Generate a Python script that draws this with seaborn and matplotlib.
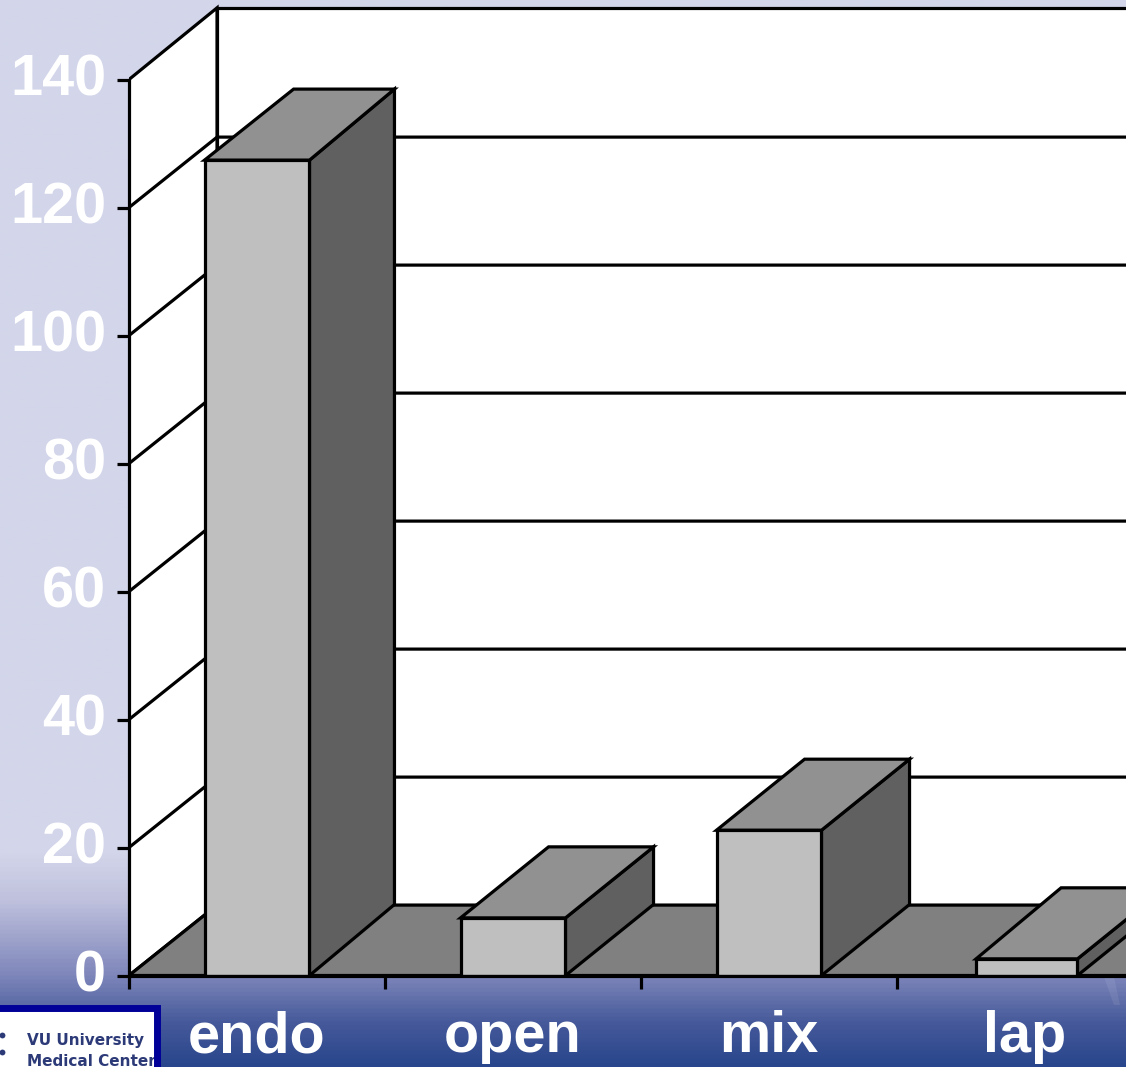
import numpy as np
import pandas as pd
import matplotlib
matplotlib.use("Agg")
import matplotlib.pyplot as plt
from matplotlib.colors import LinearSegmentedColormap
from matplotlib.lines import Line2D
from matplotlib.patches import Polygon, Rectangle
from matplotlib.transforms import ScaledTranslation
import seaborn as sns

# Procedure counts per surgical approach
approaches = ["endo", "open", "mix", "lap"]
counts = [127.4, 9, 22.7, 2.6]
y_ticks = [0, 20, 40, 60, 80, 100, 120, 140]

# Colours of the box faces and walls
FRONT = "#bfbfbf"
TOP = "#919191"
SIDE = "#606060"
FLOOR = "#808080"
LINE = "black"
LW = 2.3

# Depth of the pseudo-3D projection, in category units and count units
WALL_DX, WALL_DY = 0.344, 11.0
WALL_TOP = 151.2
BAR_DY = 11.1
BAR_WIDTH = 0.41
depth_left = [0.348, 0.344, 0.344, 0.332]
depth_right = [0.332, 0.344, 0.344, 0.344]
left_trim = [0, 0, 0, 0.014]

sns.set_theme(style="white")
plt.rcParams["font.family"] = ["Liberation Sans", "DejaVu Sans"]

W, H = 1126, 1067
fig = plt.figure(figsize=(W / 100, H / 100), dpi=100)
to_fig = lambda x, y: (x / W, 1 - y / H)

# Slide backdrop: pale lavender fading into a deep blue band
bg = fig.add_axes([0, 0, 1, 1], zorder=0)
stops = [(0.0, "#d3d6ea"), (0.80, "#d3d6ea"), (0.845, "#bfc1dd"),
         (0.915, "#7f87bb"), (0.96, "#46599a"), (1.0, "#29468c")]
cmap = LinearSegmentedColormap.from_list("backdrop", stops)
bg.imshow(np.linspace(0, 1, 512)[:, None], cmap=cmap, aspect="auto",
          extent=(0, 1, 0, 1), vmin=0, vmax=1)
bg.axis("off")

# Faint light streak in the blue band
fig.add_artist(Polygon([to_fig(1104, 977), to_fig(1114, 977), to_fig(1120, 1005), to_fig(1114, 1005)],
                       closed=True, transform=fig.transFigure, fc="white", ec="none", alpha=0.08, zorder=0.5))

left, base = 129, 975.5
ax = fig.add_axes([left / W, (H - base) / H, (W - left) / W, base / H], zorder=1)
ax.patch.set_alpha(0)

x_max = -0.5 + (W - left) / 256
y_max = base / 6.4
x0 = -0.5

# Walls and floor behind the bars
ax.add_patch(Polygon([(x0, 0), (x0 + WALL_DX, WALL_DY), (x0 + WALL_DX, WALL_TOP), (x0, 140)],
                     closed=True, fc="white", ec=LINE, lw=LW, zorder=1, joinstyle="miter"))
ax.add_patch(Rectangle((x0 + WALL_DX, WALL_DY), x_max - x0, WALL_TOP - WALL_DY, fc="white", ec=LINE, lw=LW, zorder=1))
for v in y_ticks[1:-1]:
    ax.plot([x0, x0 + WALL_DX, x_max], [v, v + WALL_DY, v + WALL_DY], color=LINE, lw=LW, zorder=2,
            solid_joinstyle="miter")
ax.add_patch(Polygon([(x0, 0), (x0 + WALL_DX, WALL_DY), (x_max + 1, WALL_DY), (x_max + 1, 0)],
                     closed=True, fc=FLOOR, ec=LINE, lw=LW, zorder=3))

# Front faces come from seaborn; tops and sides follow from the same values
frame = pd.DataFrame({"approach": approaches, "count": counts})
sns.barplot(data=frame, x="approach", y="count", color=FRONT, saturation=1, width=BAR_WIDTH,
            edgecolor=LINE, linewidth=LW, ax=ax, zorder=6)
for i, (bar, v) in enumerate(zip(ax.containers[0], counts)):
    l, r = i - BAR_WIDTH / 2 + left_trim[i], i + BAR_WIDTH / 2
    bar.set_x(l)
    bar.set_width(r - l)
    dl, dr = depth_left[i], depth_right[i]
    ax.add_patch(Polygon([(r, 0), (r + dr, BAR_DY), (r + dr, v + BAR_DY), (r, v)],
                         closed=True, fc=SIDE, ec=LINE, lw=LW, zorder=5, joinstyle="miter"))
    ax.add_patch(Polygon([(l, v), (l + dl, v + BAR_DY), (r + dr, v + BAR_DY), (r, v)],
                         closed=True, fc=TOP, ec=LINE, lw=LW, zorder=5, joinstyle="miter"))

ax.set_xlim(x0, x_max)
ax.set_ylim(0, y_max)
ax.set_xlabel("")
ax.set_ylabel("")

# Axes furniture
for s in ("top", "right"):
    ax.spines[s].set_visible(False)
for s in ("left", "bottom"):
    ax.spines[s].set_color(LINE)
    ax.spines[s].set_linewidth(LW)
    ax.spines[s].set_zorder(8)
ax.spines["left"].set_bounds(0, 140)

LABEL = dict(fontsize=41.5, fontweight="bold", color="white")
ax.set_yticks(y_ticks)
ax.set_yticklabels([str(v) for v in y_ticks], **LABEL)
ax.tick_params(axis="y", which="major", left=True, length=8.5, width=LW, color=LINE, pad=8)
raise_labels = ScaledTranslation(0, 0.045, fig.dpi_scale_trans)
for label in ax.get_yticklabels():
    label.set_transform(label.get_transform() + raise_labels)
ax.set_xticks(range(len(approaches)))
ax.set_xticklabels(approaches, **LABEL)
ax.tick_params(axis="x", which="major", bottom=False, pad=19)
ax.set_xticks([i - 0.5 for i in range(len(approaches) + 1) if i - 0.5 < x_max], minor=True)
ax.tick_params(axis="x", which="minor", bottom=True, length=9, width=LW, color=LINE)

# Institution badge in the lower left corner
fig.add_artist(Rectangle(to_fig(-8, 1075), 164.5 / W, 66.5 / H, transform=fig.transFigure,
                         fc="white", ec="none", zorder=10))
for py in (1035, 1052):
    fig.add_artist(Line2D(*zip(to_fig(1.5, py)), marker="o", ms=4.2, mfc="#2c3a78", mec="none",
                          ls="none", transform=fig.transFigure, zorder=11))
for line, py in (("VU University", 1040), ("Medical Center", 1061)):
    fig.text(*to_fig(27, py), line, family="DejaVu Sans", fontweight="bold", fontsize=11,
             color="#2c3a78", va="center", ha="left", zorder=11)
fig.add_artist(Rectangle(to_fig(-8, 1075), 164.5 / W, 66.5 / H, transform=fig.transFigure,
                         fc="none", ec="#000099", lw=5, zorder=12))

fig.savefig("out.png", dpi=100)
